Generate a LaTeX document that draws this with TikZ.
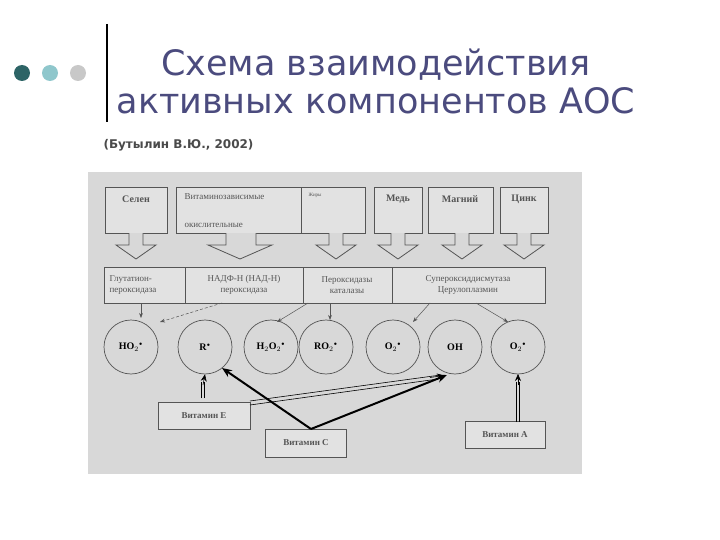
\documentclass[tikz,border=0pt]{standalone}
\usepackage{fontspec}
\setmainfont{Liberation Serif}
\newfontfamily\titlefont{DejaVu Sans}
\usetikzlibrary{arrows.meta}
\definecolor{panel}{HTML}{D8D8D8}
\definecolor{boxc}{HTML}{E2E2E2}
\definecolor{titlec}{HTML}{4B4B7E}
\definecolor{subc}{HTML}{4A4A4A}
\definecolor{ln}{HTML}{555555}
\definecolor{dotA}{HTML}{2D6466}
\definecolor{dotB}{HTML}{8FC7CC}
\definecolor{dotC}{HTML}{C8C8C8}
\newcommand{\rd}{$^{\scriptscriptstyle\bullet}$}
\begin{document}
\begin{tikzpicture}[x=1pt,y=-1pt,
  circ/.style={draw=ln,circle,minimum size=54pt,inner sep=0pt,line width=0.7pt,font=\bfseries},
  lbl/.style={font=\small,text=ln,align=center},
  bxn/.style={draw=ln,fill=boxc,line width=0.8pt,inner sep=0pt},
  thinA/.style={-{Stealth[length=5pt]},line width=0.5pt,draw=ln},
  thinD/.style={thinA,densely dashed},
  thickA/.style={-{Stealth[length=10pt,width=8pt]},line width=2pt},
  dline/.style={line width=0.6pt,black},
  dtip/.style={-{Stealth[length=7pt,width=6pt]},line width=0.6pt,black},
  barrow/.style={draw=ln,fill=panel,line width=0.8pt}]
\useasboundingbox (0,0) rectangle (720,540);
\fill[white] (0,0) rectangle (720,540);
% header
\fill[dotA] (22,73) circle (8);
\fill[dotB] (50,73) circle (8);
\fill[dotC] (78,73) circle (8);
\draw[line width=2.5pt] (107,24) -- (107,122);
\node[font=\titlefont\fontsize{35}{38}\selectfont,text=titlec,align=center,inner sep=0pt] (title) at (376,81) {Схема взаимодействия\\активных компонентов АОС};
\node[font=\titlefont\bfseries\fontsize{12}{14}\selectfont,text=subc,anchor=west] (sub) at (100,145) {(Бутылин В.Ю., 2002)};
% panel
\fill[panel] (88,172) rectangle (582,474);
% top boxes
\node[bxn,minimum width=62pt,minimum height=46pt,anchor=north west] (sel) at (105,187) {};
\node[font=\bfseries,text=ln] at (136,199) {Селен};
\draw[draw=ln,fill=boxc,line width=0.8pt] (176,187) rectangle (301,233);
\node[lbl,anchor=west,font=\small] (vit) at (181,197) {Витаминозависимые};
\node[lbl,anchor=west,font=\small] (ok) at (181,225) {окислительные};
\draw[draw=ln,fill=boxc,line width=0.8pt] (301,187) rectangle (365,233);
\node[lbl,anchor=west,font=\tiny] (zh) at (305,195) {Жиры};
\node[bxn,minimum width=48pt,minimum height=46pt,anchor=north west] (med) at (374,187) {};
\node[font=\bfseries,text=ln] at (398,199) {Медь};
\node[bxn,minimum width=65pt,minimum height=46pt,anchor=north west] (mag) at (428,187) {};
\node[font=\bfseries,text=ln] at (460,199) {Магний};
\node[bxn,minimum width=48pt,minimum height=46pt,anchor=north west] (zn) at (500,187) {};
\node[font=\bfseries,text=ln] at (524,199) {Цинк};
% block arrows
\foreach \c in {136,336,398,462,524}
  \draw[barrow] (\c-7,233) -- (\c-7,245) -- (\c-20,245) -- (\c,259) -- (\c+20,245) -- (\c+7,245) -- (\c+7,233);
\draw[barrow] (226,233) -- (226,245) -- (208,245) -- (240,259) -- (272,245) -- (256,245) -- (256,233);
% second row
\draw[draw=ln,fill=boxc,line width=0.8pt] (104,267) rectangle (545,303);
\draw[draw=ln,line width=0.8pt] (185,267) -- (185,303) (303,267) -- (303,303) (392,267) -- (392,303);
\node[lbl,align=left,anchor=west] (glu) at (106,285) {Глутатион-\\пероксидаза};
\node[lbl] (nad) at (244,285) {НАДФ-Н (НАД-Н)\\пероксидаза};
\node[lbl] (per) at (347,285) {Пероксидазы\\каталазы};
\node[lbl] (sod) at (468,285) {Супероксиддисмутаза\\Церулоплазмин};
% circles
\node[circ] (c1) at (131,347) {HO$_2$\rd};
\node[circ] (c2) at (205,347) {R\rd};
\node[circ] (c3) at (271,347) {H$_2$O$_2$\rd};
\node[circ] (c4) at (326,347) {RO$_2$\rd};
\node[circ] (c5) at (393,347) {O$_2$\rd};
\node[circ] (c6) at (455,347) {OH};
\node[circ] (c7) at (518,347) {O$_2$\rd};
% thin arrows
\draw[thinA] (141,303) -- (141,318);
\draw[thinD] (222,303) -- (160,322);
\draw[thinA] (308,303) -- (277,322);
\draw[thinA] (330,303) -- (330,320);
\draw[thinA] (430,303) -- (413,322);
\draw[thinA] (476,303) -- (508,322);
% vitamins
\node[bxn,minimum width=92pt,minimum height=27pt,font=\bfseries\small,text=ln] (ve) at (204,416) {Витамин Е};
\node[bxn,minimum width=81pt,minimum height=28pt,font=\bfseries\small,text=ln] (vc) at (306,443) {Витамин С};
\node[bxn,minimum width=80pt,minimum height=27pt,font=\bfseries\small,text=ln] (va) at (505,435) {Витамин А};
\coordinate (vcT) at (311,429);
\draw[thickA] (vcT) -- (222,368);
\draw[thickA] (vcT) -- (447,375);
% double arrows
\draw[dline] (250,401) -- (437,375.5) (250,405) -- (438,379);
\draw[dtip] (430,377.5) -- (444,375.5);
\draw[dline] (201.5,398) -- (201.5,382) (204.5,398) -- (204.5,382);
\draw[dtip] (203,385) -- (c2.south);
\draw[dline] (516.5,422) -- (516.5,382) (519.5,422) -- (519.5,382);
\draw[dtip] (518,385) -- (518,374);
\end{tikzpicture}
\end{document}
